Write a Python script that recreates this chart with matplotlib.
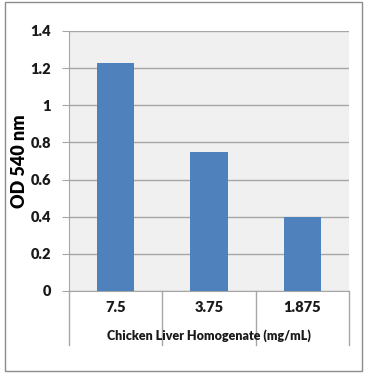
import matplotlib
matplotlib.use("Agg")
import matplotlib.pyplot as plt
from matplotlib.patches import Rectangle
import numpy as np

categories = ["7.5", "3.75", "1.875"]
od_values = [1.23, 0.75, 0.40]
y_ticks = [0, 0.2, 0.4, 0.6, 0.8, 1.0, 1.2, 1.4]
y_tick_labels = ["0", "0.2", "0.4", "0.6", "0.8", "1", "1.2", "1.4"]

plt.rcParams['font.family'] = ['Lato', 'DejaVu Sans']

W, H = 368, 376
fig = plt.figure(figsize=(W / 100, H / 100), dpi=100)
ax = fig.add_axes([69 / W, 1 - 291 / H, 280 / W, 260 / H])

line_col = "#a6a6a6"
x = np.arange(len(categories))

ax.set_facecolor("#f0f0f0")
ax.bar(x, od_values, width=0.4, color="#4f81bd", zorder=3)

ax.set_xlim(-0.5, len(categories) - 0.5)
ax.set_ylim(0, 1.4)
ax.set_yticks(y_ticks)
ax.set_yticklabels(y_tick_labels, fontsize=10.5, fontweight="heavy", color="#1a1a1a")
ax.yaxis.grid(True, color=line_col, linewidth=1, zorder=1)
ax.tick_params(axis="y", length=5, color=line_col, pad=8)
ax.set_xticks([])

for side in ["top", "right"]:
    ax.spines[side].set_visible(False)
for side in ["left", "bottom"]:
    ax.spines[side].set_color(line_col)

# category separators below the axis
trans = ax.get_xaxis_transform()
for b in np.arange(-0.5, len(categories), 1.0):
    ax.plot([b, b], [0, -0.208], transform=trans, color=line_col,
            linewidth=1, clip_on=False)

for xi, lab in zip(x, categories):
    ax.text(xi, -0.062, lab, transform=trans, ha="center", va="center",
            fontsize=10.5, fontweight="heavy", color="#1a1a1a")

ax.text(1.0, -0.17, "Chicken Liver Homogenate (mg/mL)", transform=trans,
        ha="center", va="center", fontsize=9, fontweight="heavy", color="#1a1a1a")

ax.set_ylabel("OD 540 nm", fontsize=13, fontweight="heavy", labelpad=2)

# outer frame
fig.patches.append(Rectangle((5 / W, 1 - 371 / H), 357 / W, 369 / H,
                             transform=fig.transFigure, fill=False,
                             edgecolor="#8c8c8c", linewidth=1))

plt.savefig("out.png", dpi=100)
